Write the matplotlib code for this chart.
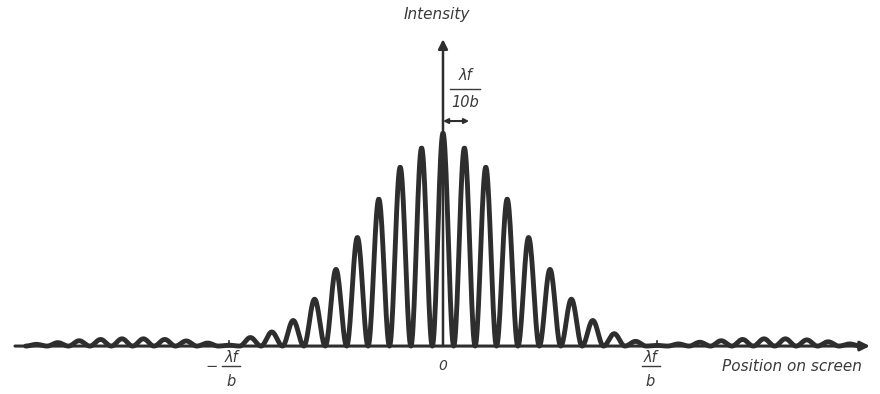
import numpy as np
import matplotlib.pyplot as plt

# fringe order and relative peak height (central fringe = 1)
orders = list(range(-19, 20))
heights = [0.008, 0.016, 0.025, 0.031, 0.034, 0.034, 0.031, 0.024, 0.014, 0.004,   # -19 .. -10
           0.040, 0.066, 0.12, 0.22, 0.36, 0.51, 0.69, 0.84, 0.93,                  # -9 .. -1
           1.0,                                                                     # 0
           0.93, 0.84, 0.69, 0.51, 0.36, 0.22, 0.12, 0.058, 0.022,                  # 1 .. 9
           0.003, 0.010, 0.018, 0.025, 0.031, 0.034, 0.034, 0.029, 0.020, 0.010]    # 10 .. 19
spacing = 0.1   # fringe spacing, lambda f / 10b, in units of lambda f / b

ink = '#2e2e2e'
txt = '#3a3a3a'

fig = plt.figure(figsize=(8.8, 3.94), dpi=100)
ax = fig.add_axes([0, 0, 1, 1])
ax.set_xlim(-2.070, 2.042)
ax.set_ylim(-0.225, 1.624)
ax.axis('off')

# build the curve one fringe at a time
xs, ys = [], []
for n, h in zip(orders, heights):
    x = np.linspace((n - 0.5) * spacing, (n + 0.5) * spacing, 40)
    xs.append(x)
    ys.append(h * np.cos(np.pi * (x - n * spacing) / spacing) ** 2)
xs = np.concatenate(xs)
ys = np.concatenate(ys)
ax.plot(xs, ys, color=ink, lw=3.5, solid_capstyle='round', solid_joinstyle='round', zorder=3)

# axes with arrows
ax.annotate('', xy=(1.995, 0), xytext=(-2.0, 0),
            arrowprops=dict(arrowstyle='-|>', color=ink, lw=2.2,
                            mutation_scale=14, shrinkA=0, shrinkB=0))
ax.annotate('', xy=(0, 1.44), xytext=(0, 0),
            arrowprops=dict(arrowstyle='-|>', color=ink, lw=1.8,
                            mutation_scale=14, shrinkA=0, shrinkB=0))
for t in (-1, 1):
    ax.plot([t, t], [0, 0.025], color=ink, lw=1.2)

# fringe spacing marker
ax.annotate('', xy=(0.122, 1.056), xytext=(0, 1.056),
            arrowprops=dict(arrowstyle='<|-|>', color=ink, lw=1.5,
                            mutation_scale=7, shrinkA=0, shrinkB=0))

ital = dict(style='italic', color=txt, family='DejaVu Sans')

ax.text(-0.028, 1.555, 'Intensity', ha='center', va='center', fontsize=11, **ital)
ax.text(0.103, 1.27, 'λf', ha='center', va='center', fontsize=10.5, **ital)
ax.plot([0.033, 0.173], [1.205, 1.205], color=txt, lw=1.0)
ax.text(0.103, 1.145, '10b', ha='center', va='center', fontsize=10.5, **ital)

ax.text(0.0, -0.095, '0', ha='center', va='center', fontsize=10, **ital)
ax.text(1.63, -0.095, 'Position on screen', ha='center', va='center', fontsize=11, **ital)

# -lambda f / b and lambda f / b labels
for xc, sign in ((-0.99, True), (0.97, False)):
    ax.text(xc, -0.052, 'λf', ha='center', va='center', fontsize=10.5, **ital)
    ax.plot([xc - 0.042, xc + 0.042], [-0.094, -0.094], color=txt, lw=1.0)
    ax.text(xc, -0.168, 'b', ha='center', va='center', fontsize=10.5, **ital)
    if sign:
        ax.text(xc - 0.09, -0.094, '−', ha='center', va='center', fontsize=10.5, color=txt)

fig.savefig('out.png', dpi=100)
